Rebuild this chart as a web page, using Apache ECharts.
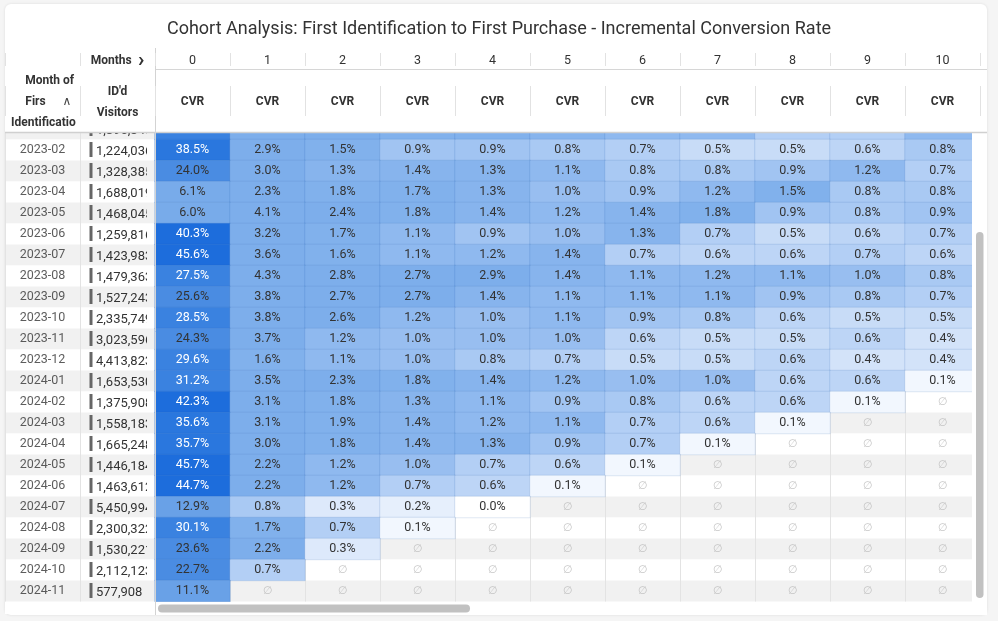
<!DOCTYPE html>
<html><head><meta charset="utf-8">
<script src="https://cdn.jsdelivr.net/npm/echarts@6/dist/echarts.min.js"></script>
<style>
html,body{margin:0;padding:0;background:#f5f5f5;width:998px;height:621px;overflow:hidden;}
#card{position:absolute;left:5px;top:4px;width:982px;height:611px;background:#fff;border-radius:6px;box-shadow:0 0 3px rgba(0,0,0,0.10);}
#chart{position:absolute;left:0;top:0;width:998px;height:621px;}
</style></head><body>
<div id="card"></div><div id="chart"></div>
<script>
// ---------------- data ----------------
const cohortMonths = ['2023-01','2023-02','2023-03','2023-04','2023-05','2023-06','2023-07','2023-08','2023-09','2023-10','2023-11','2023-12','2024-01','2024-02','2024-03','2024-04','2024-05','2024-06','2024-07','2024-08','2024-09','2024-10','2024-11'];
const visitors = [1896840,1224036,1328385,1688019,1468045,1259816,1423983,1479363,1527243,2335749,3023596,4413823,1653530,1375908,1558183,1665248,1446184,1463612,5450994,2300322,1530221,2112123,577908];
const monthOffsets = ['0','1','2','3','4','5','6','7','8','9','10'];
const headerRow2 = ['{r|Month of}\n{r2|Firs}{c|∧}\n{l|Identificatio}', "ID'd\nVisitors", 'CVR','CVR','CVR','CVR','CVR','CVR','CVR','CVR','CVR','CVR','CVR'];

const r2023_01 = [29.0, 3.3, 2.1, 1.6, 1.5, 1.4, 1.1, 1.1, 0.7, 0.7, 1.1];
const r2023_02 = [38.5, 2.9, 1.5, 0.9, 0.9, 0.8, 0.7, 0.5, 0.5, 0.6, 0.8];
const r2023_03 = [24.0, 3.0, 1.3, 1.4, 1.3, 1.1, 0.8, 0.8, 0.9, 1.2, 0.7];
const r2023_04 = [6.1, 2.3, 1.8, 1.7, 1.3, 1.0, 0.9, 1.2, 1.5, 0.8, 0.8];
const r2023_05 = [6.0, 4.1, 2.4, 1.8, 1.4, 1.2, 1.4, 1.8, 0.9, 0.8, 0.9];
const r2023_06 = [40.3, 3.2, 1.7, 1.1, 0.9, 1.0, 1.3, 0.7, 0.5, 0.6, 0.7];
const r2023_07 = [45.6, 3.6, 1.6, 1.1, 1.2, 1.4, 0.7, 0.6, 0.6, 0.7, 0.6];
const r2023_08 = [27.5, 4.3, 2.8, 2.7, 2.9, 1.4, 1.1, 1.2, 1.1, 1.0, 0.8];
const r2023_09 = [25.6, 3.8, 2.7, 2.7, 1.4, 1.1, 1.1, 1.1, 0.9, 0.8, 0.7];
const r2023_10 = [28.5, 3.8, 2.6, 1.2, 1.0, 1.1, 0.9, 0.8, 0.6, 0.5, 0.5];
const r2023_11 = [24.3, 3.7, 1.2, 1.0, 1.0, 1.0, 0.6, 0.5, 0.5, 0.6, 0.4];
const r2023_12 = [29.6, 1.6, 1.1, 1.0, 0.8, 0.7, 0.5, 0.5, 0.6, 0.4, 0.4];
const r2024_01 = [31.2, 3.5, 2.3, 1.8, 1.4, 1.2, 1.0, 1.0, 0.6, 0.6, 0.1];
const r2024_02 = [42.3, 3.1, 1.8, 1.3, 1.1, 0.9, 0.8, 0.6, 0.6, 0.1, null];
const r2024_03 = [35.6, 3.1, 1.9, 1.4, 1.2, 1.1, 0.7, 0.6, 0.1, null, null];
const r2024_04 = [35.7, 3.0, 1.8, 1.4, 1.3, 0.9, 0.7, 0.1, null, null, null];
const r2024_05 = [45.7, 2.2, 1.2, 1.0, 0.7, 0.6, 0.1, null, null, null, null];
const r2024_06 = [44.7, 2.2, 1.2, 0.7, 0.6, 0.1, null, null, null, null, null];
const r2024_07 = [12.9, 0.8, 0.3, 0.2, 0.0, null, null, null, null, null, null];
const r2024_08 = [30.1, 1.7, 0.7, 0.1, null, null, null, null, null, null, null];
const r2024_09 = [23.6, 2.2, 0.3, null, null, null, null, null, null, null, null];
const r2024_10 = [22.7, 0.7, null, null, null, null, null, null, null, null, null];
const r2024_11 = [11.1, null, null, null, null, null, null, null, null, null, null];
const cvrRows = [r2023_01,r2023_02,r2023_03,r2023_04,r2023_05,r2023_06,r2023_07,r2023_08,r2023_09,r2023_10,r2023_11,r2023_12,r2024_01,r2024_02,r2024_03,r2024_04,r2024_05,r2024_06,r2024_07,r2024_08,r2024_09,r2024_10,r2024_11];

// ---------------- build ----------------
const colKeys = ['label','visitors'].concat(monthOffsets);
const headerRow1 = ['', '{m|Months}  {a|›}'].concat(monthOffsets);
const heatData = [], nullData = [];
cvrRows.forEach((row, ri) => {
  row.forEach((v, ci) => {
    if (v === null) nullData.push([ci + 2, ri]);
    else heatData.push({value: [ci + 2, ri, v], label: {color: v >= 26 ? '#ffffff' : '#333333'}});
  });
});
const labelData = cohortMonths.map((m, i) => [0, i]);
const visitorData = visitors.map((v, i) => [1, i, v]);

const F = 'Roboto, "Noto Sans", sans-serif';
const chart = echarts.init(document.getElementById('chart'), null, {renderer: 'canvas'});
const topAxisBase = {
  type: 'category', data: colKeys, position: 'top', gridIndex: 0, z: 20,
  axisLine: {show: false},
  splitLine: {show: false}
};
chart.setOption({
  animation: false,
  backgroundColor: 'transparent',
  title: {
    text: 'Cohort Analysis: First Identification to First Purchase - Incremental Conversion Rate',
    left: 'center', top: 15,
    textStyle: {fontFamily: F, fontSize: 18, fontWeight: 'normal', color: '#333333'}
  },
  grid: {left: 5, right: 18, top: 118.5, bottom: 19.5, containLabel: false},
  xAxis: [
    {type: 'category', data: colKeys, position: 'bottom',
     axisLine: {show: false}, axisTick: {show: false}, axisLabel: {show: false, interval: 0},
     splitLine: {show: true, interval: 0, lineStyle: {color: '#e3e3e3', width: 1}}},
    Object.assign({}, topAxisBase, {
      offset: 52.5,
      axisTick: {show: true, interval: 0, length: 13, lineStyle: {color: '#e2e2e2'}},
      axisLabel: {interval: 0, margin: 5, verticalAlign: 'middle', fontFamily: F, fontSize: 12.5, color: '#333',
        formatter: (v, i) => headerRow1[i],
        rich: {m: {fontFamily: F, fontSize: 12, fontWeight: 'bold', color: '#333'},
               a: {fontFamily: F, fontSize: 21, fontWeight: 'bold', color: '#333'}}}
    }),
    Object.assign({}, topAxisBase, {
      offset: 2.5,
      axisTick: {show: true, interval: 0, length: 30, lineStyle: {color: '#e2e2e2'}},
      axisLabel: {interval: 0, margin: 14, verticalAlign: 'middle', lineHeight: 21, fontFamily: F, fontSize: 12, fontWeight: 'bold', color: '#333',
        formatter: (v, i) => headerRow2[i],
        rich: {
          r: {width: 63, align: 'right', fontFamily: F, fontSize: 12, fontWeight: 'bold', color: '#333', lineHeight: 21},
          r2: {width: 49, align: 'right', fontFamily: F, fontSize: 12, fontWeight: 'bold', color: '#333', lineHeight: 21},
          c: {width: 14, align: 'center', fontFamily: '"DejaVu Sans"', fontSize: 12, fontWeight: 'normal', color: '#444', lineHeight: 21},
          l: {width: 63, align: 'left', fontFamily: F, fontSize: 12, fontWeight: 'bold', color: '#333', lineHeight: 21}
        }}
    })
  ],
  yAxis: {
    type: 'category', data: cohortMonths, inverse: true,
    axisLine: {show: false}, axisTick: {show: false}, axisLabel: {show: false, interval: 0},
    splitLine: {show: false},
    splitArea: {show: true, interval: 0, areaStyle: {color: ['#f1f1f1', '#ffffff']}}
  },
  visualMap: {
    type: 'piecewise', show: false, dimension: 2, seriesIndex: 0,
    pieces: [
      {gte: 0, lt: 0.05, color: '#ffffff'},
      {gte: 0.05, lt: 0.15, color: '#f2f7fe'},
      {gte: 0.15, lt: 0.25, color: '#e6effc'},
      {gte: 0.25, lt: 0.35, color: '#dde9fb'},
      {gte: 0.35, lt: 0.45, color: '#d3e3f9'},
      {gte: 0.45, lt: 0.55, color: '#c8dcf7'},
      {gte: 0.55, lt: 0.65, color: '#bdd5f6'},
      {gte: 0.65, lt: 0.75, color: '#b3cff5'},
      {gte: 0.75, lt: 0.85, color: '#a9c9f3'},
      {gte: 0.85, lt: 0.95, color: '#a1c4f2'},
      {gte: 0.95, lt: 1.05, color: '#98bef0'},
      {gte: 1.05, lt: 1.25, color: '#8fb9ef'},
      {gte: 1.25, lt: 1.45, color: '#87b4ed'},
      {gte: 1.45, lt: 2.0, color: '#81b1ec'},
      {gte: 2.0, lt: 5.0, color: '#7daeeb'},
      {gte: 5.0, lt: 8.0, color: '#78abea'},
      {gte: 8.0, lt: 16.0, color: '#69a1e7'},
      {gte: 16.0, lt: 26.0, color: '#4a8ce2'},
      {gte: 26.0, lt: 33.0, color: '#3a82e0'},
      {gte: 33.0, lt: 40.0, color: '#2a77de'},
      {gte: 40.0, lte: 100, color: '#1d6ddc'}
    ]
  },
  series: [
    {
      type: 'heatmap', data: heatData, z: 2,
      itemStyle: {borderColor: 'rgba(25,85,170,0.13)', borderWidth: 1},
      label: {show: true, fontFamily: F, fontSize: 12.5, formatter: p => p.value[2].toFixed(1) + '%'},
      emphasis: {disabled: true}
    },
    {
      type: 'scatter', data: nullData, symbolSize: 1, itemStyle: {color: 'rgba(0,0,0,0)'}, z: 2,
      label: {show: true, position: 'inside', formatter: '∅', color: '#b8b8b8', fontSize: 11, fontFamily: '"DejaVu Sans"'},
      emphasis: {disabled: true}, silent: true
    },
    {
      type: 'scatter', data: labelData, symbolSize: 1, itemStyle: {color: 'rgba(0,0,0,0)'}, z: 2,
      label: {show: true, position: 'inside', formatter: p => cohortMonths[p.dataIndex], color: '#333', fontSize: 12.5, fontFamily: F},
      emphasis: {disabled: true}, silent: true
    },
    {
      type: 'custom', data: visitorData, z: 2, silent: true,
      renderItem: function (params, api) {
        const c = api.coord([api.value(0), api.value(1)]);
        const w = api.size([1, 1]);
        const left = c[0] - w[0] / 2;
        const txt = visitors[params.dataIndex].toLocaleString('en-US');
        return {type: 'group', children: [
          {type: 'rect', shape: {x: left + 9.5, y: c[1] - 8, width: 3, height: 15}, style: {fill: '#666666'}},
          {type: 'text', x: left + 16, y: c[1] + 1.5,
           clipPath: {type: 'rect', shape: {x: 0, y: -10, width: w[0] - 24, height: 20}},
           style: {text: txt, fill: '#333333', fontSize: 13, fontFamily: F, verticalAlign: 'middle', align: 'left'}}
        ]};
      }
    }
  ],
  graphic: [
    {type: 'rect', z: 10, shape: {x: 5, y: 108, width: 982, height: 24.5}, style: {fill: '#ffffff'}},
    {type: 'rect', z: 10, shape: {x: 972, y: 133, width: 15, height: 482}, style: {fill: '#ffffff'}},
    {type: 'rect', z: 10, shape: {x: 5, y: 602, width: 982, height: 12}, style: {fill: '#ffffff'}},
    {type: 'line', z: 12, shape: {x1: 155, y1: 69.5, x2: 987, y2: 69.5}, style: {stroke: '#d6d6d6', lineWidth: 1}},
    {type: 'line', z: 12, shape: {x1: 5, y1: 132.5, x2: 987, y2: 132.5}, style: {stroke: '#d0d0d0', lineWidth: 1.5}},
    {type: 'line', z: 12, shape: {x1: 155.5, y1: 48, x2: 155.5, y2: 615}, style: {stroke: '#d3d3d3', lineWidth: 1}},
    {type: 'rect', z: 13, shape: {x: 976, y: 232, width: 7.5, height: 366, r: 4}, style: {fill: '#c1c1c1'}},
    {type: 'rect', z: 13, shape: {x: 158, y: 604.5, width: 312, height: 8, r: 4}, style: {fill: '#c1c1c1'}}
  ]
});
</script>
</body></html>
